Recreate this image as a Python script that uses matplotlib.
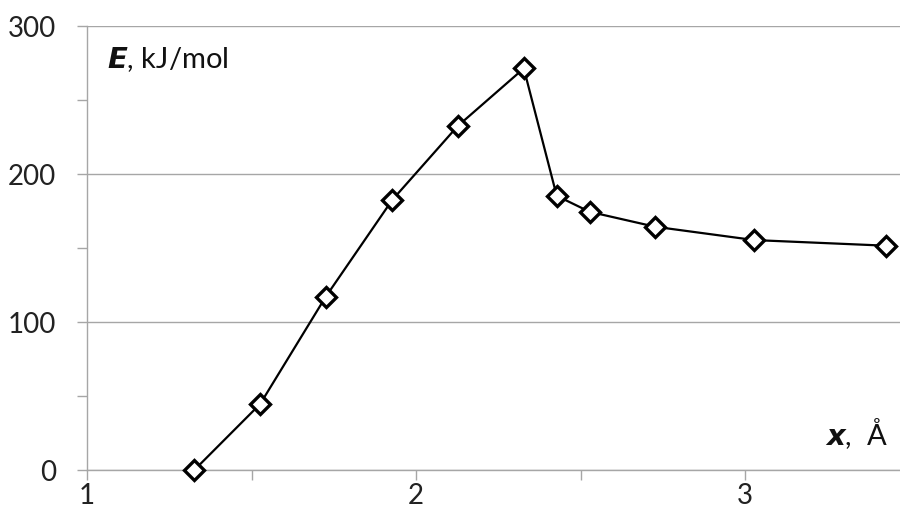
import matplotlib
matplotlib.use("Agg")
import matplotlib.pyplot as plt
from matplotlib.ticker import MultipleLocator

plt.rcParams['font.family'] = ['Lato', 'DejaVu Sans']

# reaction coordinate (Å) and energy (kJ/mol)
x_vals = [1.326, 1.526, 1.725, 1.927, 2.126, 2.327, 2.427, 2.527, 2.726, 3.027, 3.427]
e_vals = [0, 44.6, 117, 182.4, 232.4, 271.4, 185.3, 174.5, 164.4, 155.4, 151.6]

x_ticks = [1, 2, 3]
y_ticks = [0, 100, 200, 300]

grid_col = "#a6a6a6"

fig = plt.figure(figsize=(9, 5.22), dpi=100)
ax = fig.add_axes([0.0967, 0.0996, 0.9033, 0.8504])

ax.plot(x_vals, e_vals, color="black", lw=1.6, marker="D", ms=10.5,
        mfc="white", mec="black", mew=2.4, zorder=3, clip_on=False)

ax.set_xlim(1, 3.47)
ax.set_ylim(0, 300)
ax.set_xticks(x_ticks)
ax.set_yticks(y_ticks)
ax.xaxis.set_minor_locator(MultipleLocator(0.5))
ax.yaxis.set_minor_locator(MultipleLocator(50))

ax.grid(axis="y", color=grid_col, lw=1.0, zorder=0)
for side in ["top", "right"]:
    ax.spines[side].set_visible(False)
for side in ["left", "bottom"]:
    ax.spines[side].set_color(grid_col)
    ax.spines[side].set_linewidth(1.0)

ax.tick_params(axis="both", which="both", color=grid_col, width=1.0,
               direction="out", labelsize=20, labelcolor="#222222", length=7)
ax.tick_params(axis="y", which="major", pad=15)
ax.tick_params(axis="x", which="major", pad=2)

ax.text(0.025, 0.925, r"$\boldsymbol{E}$, kJ/mol", transform=ax.transAxes,
        fontsize=21, ha="left", va="center", color="#111111")
ax.text(0.985, 0.083, r"$\boldsymbol{x}$,  Å", transform=ax.transAxes,
        fontsize=21, ha="right", va="center", color="#111111")

fig.savefig("out.png", dpi=100)
